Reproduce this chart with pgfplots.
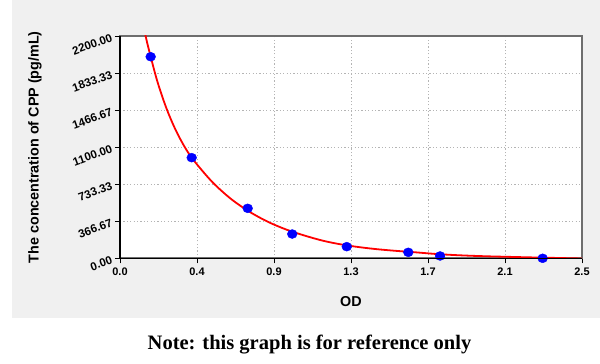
\documentclass[border=0pt]{standalone}
\usepackage{fontspec}
\setmainfont{Liberation Serif}
\setsansfont{Liberation Sans}
\usepackage{pgfplots}
\pgfplotsset{compat=1.18}
\definecolor{bg}{RGB}{240,240,240}
\definecolor{framegray}{RGB}{110,110,110}
\definecolor{gridgray}{RGB}{180,180,180}
\begin{document}
\begin{tikzpicture}
\useasboundingbox (0,0) rectangle (600bp,364bp);
\fill[white] (0,0) rectangle (600bp,364bp);
\fill[bg] (12bp,46bp) rectangle (600bp,364bp);
\begin{axis}[
  scale only axis,
  width=462bp, height=222.5bp,
  anchor=south west, at={(120bp,105.5bp)},
  xmin=0, xmax=2.5, ymin=0, ymax=2200,
  axis background/.style={fill=white},
  axis line style={draw=framegray, line width=2bp},
  xtick={0,0.416667,0.833333,1.25,1.666667,2.083333,2.5},
  xticklabels={0.0,0.4,0.9,1.3,1.7,2.1,2.5},
  ytick={0,366.67,733.33,1100,1466.67,1833.33,2200},
  yticklabels={0.00,366.67,733.33,1100.00,1466.67,1833.33,2200.00},
  minor x tick num=3, minor y tick num=3,
  xtick pos=bottom, ytick pos=left,
  tick align=outside,
  major tick length=5bp, minor tick length=3.5bp,
  tick style={black, line width=0.8bp},
  /pgf/number format/assume math mode=true,
  xticklabel style={font=\sffamily\bfseries\fontsize{11}{13}\selectfont, yshift=-1bp},
  yticklabel style={font=\sffamily\bfseries\fontsize{11.5}{13}\selectfont, rotate=20, anchor=east},
  grid=major,
  major grid style={draw=gridgray, line width=0.8bp, dash pattern=on 1.2bp off 2.2bp},
  xlabel={OD},
  ylabel={The concentration of CPP (pg/mL)},
  label style={font=\sffamily\bfseries\fontsize{14.4}{16}\selectfont},
  xlabel style={at={(axis description cs:0.5,-0.1933)}, anchor=center},
  ylabel style={at={(axis description cs:-0.184,0.5)}, anchor=center, rotate=0},
  after end axis/.code={
    \draw[black, line width=1.3bp] (rel axis cs:0,1) -- (rel axis cs:0,0) -- (rel axis cs:1,0);
  },
]
\addplot[red, line width=1.8bp, smooth, no marks] coordinates {
 (0.13,2275) (0.15,2111) (0.2,1764) (0.25,1491) (0.3,1275) (0.35,1103)
 (0.4,968) (0.5,755) (0.6,590) (0.7,463) (0.8,363) (0.9,286) (1.0,226)
 (1.1,175) (1.2,138) (1.3,111) (1.4,90.3) (1.5,74.6) (1.6,61) (1.7,46)
 (1.8,35) (1.9,27) (2.0,21) (2.1,16.5) (2.2,12) (2.3,8) (2.4,4) (2.5,0)
};
\addplot[only marks, mark=*, mark size=4.5pt, blue, mark options={xscale=1.1, draw=blue, fill=blue}] coordinates {
 (0.166,1995) (0.388,997) (0.691,496) (0.932,242) (1.227,117) (1.56,61) (1.732,25) (2.287,2)
};
\end{axis}
\node[anchor=base, font=\rmfamily\bfseries\fontsize{20.6}{24}\selectfont] at (309.5bp,14.7bp) {Note: this graph is for reference only};
\end{tikzpicture}
\end{document}
